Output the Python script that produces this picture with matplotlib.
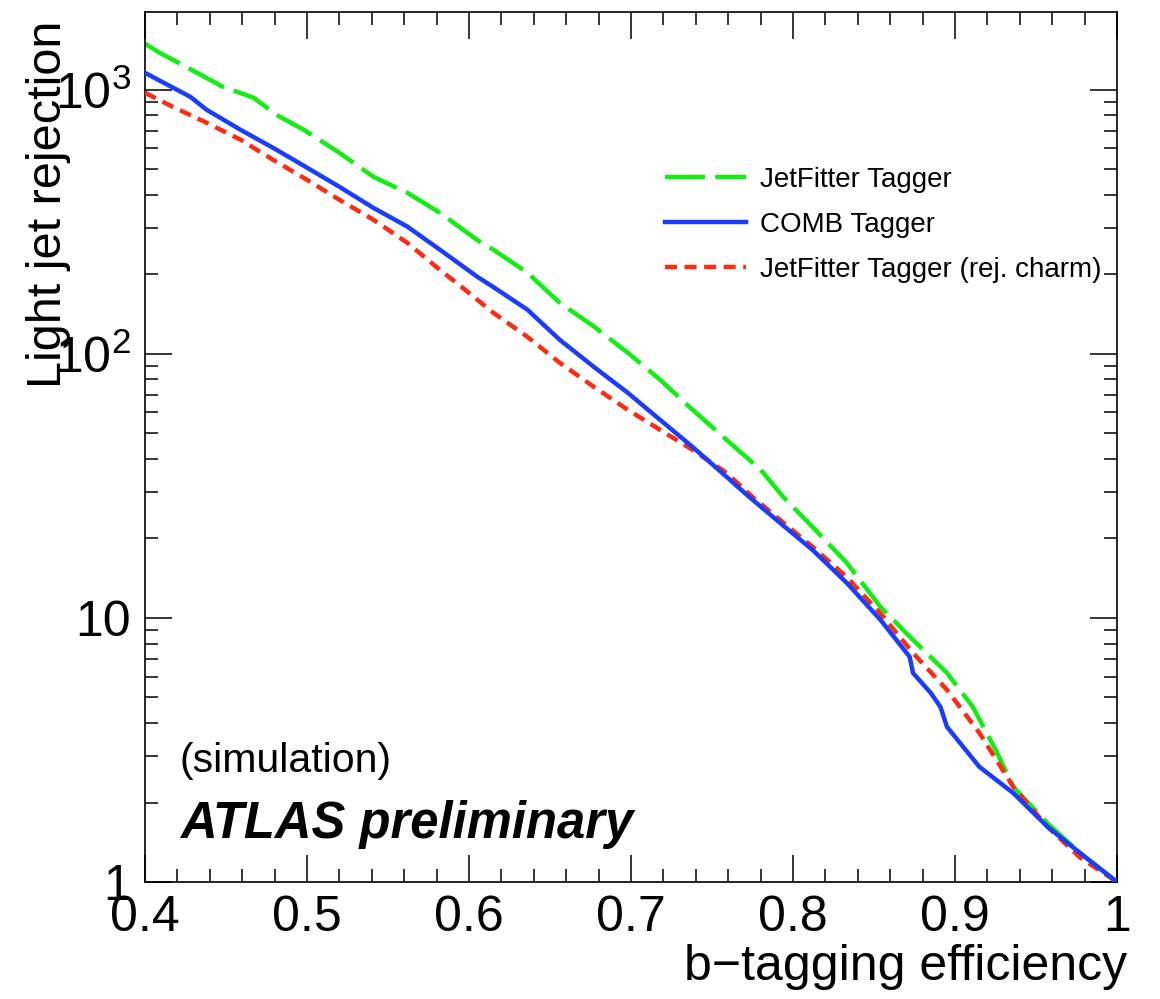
import matplotlib
matplotlib.use("Agg")
import matplotlib.pyplot as plt
from matplotlib.ticker import FixedLocator, FixedFormatter, MultipleLocator, LogLocator, NullFormatter

# b-tagging efficiency vs light jet rejection
jf_eff = [0.400, 0.409, 0.423, 0.448, 0.467, 0.481, 0.498, 0.520, 0.541, 0.562, 0.582,
          0.605, 0.615, 0.636, 0.656, 0.677, 0.698, 0.718, 0.738, 0.759, 0.780, 0.794,
          0.812, 0.833, 0.854, 0.874, 0.895, 0.911, 0.926, 0.936, 0.957, 0.977, 1.000]
jf_rej = [1494, 1380, 1244, 1026, 933, 804, 705, 577, 468, 407, 342,
          270, 248, 203, 156, 127, 101, 79.7, 61.4, 47.2, 36.4, 28.7,
          22.1, 16.2, 11.0, 8.26, 6.19, 4.60, 3.08, 2.29, 1.67, 1.29, 1.0]

comb_eff = [0.400, 0.428, 0.438, 0.459, 0.479, 0.500, 0.520, 0.541, 0.562, 0.582, 0.605,
            0.615, 0.636, 0.656, 0.677, 0.698, 0.718, 0.738, 0.759, 0.773, 0.792, 0.812,
            0.833, 0.854, 0.872, 0.874, 0.885, 0.891, 0.895, 0.905, 0.915, 0.936, 0.957,
            0.977, 1.000]
comb_rej = [1159, 940, 840, 705, 603, 507, 429, 357, 303, 248, 196,
            179, 147, 113, 89.3, 71.2, 56.2, 44.4, 34.2, 28.7, 22.9, 18.1,
            13.6, 9.83, 7.12, 6.19, 5.20, 4.60, 3.87, 3.25, 2.73, 2.17, 1.62,
            1.29, 1.0]

jfc_eff = [0.400, 0.417, 0.438, 0.459, 0.479, 0.500, 0.520, 0.541, 0.562, 0.582, 0.596,
           0.615, 0.636, 0.656, 0.677, 0.698, 0.718, 0.738, 0.759, 0.775, 0.792, 0.812,
           0.833, 0.854, 0.874, 0.895, 0.915, 0.936, 0.957, 0.977, 1.000]
jfc_rej = [974, 862, 750, 647, 543, 456, 383, 322, 263, 208, 178,
           143, 116, 92.5, 75.0, 61.4, 51.5, 43.3, 35.4, 28.7, 23.5, 18.6,
           14.3, 10.4, 7.37, 5.34, 3.67, 2.29, 1.62, 1.24, 1.0]

labels = ["JetFitter Tagger", "COMB Tagger", "JetFitter Tagger (rej. charm)"]
x_ticks = [0.4, 0.5, 0.6, 0.7, 0.8, 0.9, 1.0]
x_ticklabels = ["0.4", "0.5", "0.6", "0.7", "0.8", "0.9", "1"]
y_ticks = [1, 10, 100, 1000]
y_ticklabels = ["1", "10", "$10^{2}$", "$10^{3}$"]

plt.rcParams["font.family"] = ["Liberation Sans", "DejaVu Sans"]
plt.rcParams["mathtext.fontset"] = "custom"
plt.rcParams["mathtext.rm"] = "Liberation Sans"
plt.rcParams["mathtext.it"] = "Liberation Sans:italic"
plt.rcParams["mathtext.bf"] = "Liberation Sans:bold"

fig = plt.figure(figsize=(11.6, 9.99), dpi=100)
ax = fig.add_axes([0.125, 0.1171, 0.838, 0.8709])

l1, = ax.plot(jf_eff, jf_rej, color="#11ee11", lw=3.2, dashes=(9, 2.3), zorder=2)
l3, = ax.plot(jfc_eff, jfc_rej, color="#ff2a10", lw=3.2, dashes=(2.7, 1.7), zorder=3)
l2, = ax.plot(comb_eff, comb_rej, color="#1a3cff", lw=3.2, zorder=4)

ax.set_yscale("log")
ax.set_xlim(0.4, 1.0)
ax.set_ylim(1, 1970)

ax.xaxis.set_major_locator(FixedLocator(x_ticks))
ax.xaxis.set_major_formatter(FixedFormatter(x_ticklabels))
ax.xaxis.set_minor_locator(MultipleLocator(0.02))
ax.yaxis.set_major_locator(FixedLocator(y_ticks))
ax.yaxis.set_major_formatter(FixedFormatter(y_ticklabels))
ax.yaxis.set_minor_locator(LogLocator(base=10, subs=range(2, 10), numticks=20))
ax.yaxis.set_minor_formatter(NullFormatter())

ax.tick_params(which="both", direction="in", top=True, right=True, width=1.1, colors="black")
ax.tick_params(which="major", length=19.5, labelsize=36)
ax.tick_params(which="minor", length=9.5)
ax.tick_params(axis="x", which="major", pad=9)
ax.tick_params(axis="y", which="major", pad=10)
for s in ax.spines.values():
    s.set_linewidth(1.2)

ax.text(-0.0988, 0.99, "Light jet rejection", rotation=90, ha="center", va="top",
        fontsize=35, transform=ax.transAxes)
ax.text(1.0103, -0.1126, "b\u2212tagging efficiency", ha="right", va="baseline",
        fontsize=36, transform=ax.transAxes)

ax.text(0.036, 0.1264, "(simulation)", fontsize=29.5, ha="left", va="baseline",
        transform=ax.transAxes)
ax.text(0.036, 0.0506, "ATLAS preliminary", fontsize=36.5, fontweight="bold",
        fontstyle="italic", ha="left", va="baseline", transform=ax.transAxes)

ax.legend([l1, l2, l3], labels, loc="upper left", bbox_to_anchor=(0.535, 0.822),
          frameon=False, fontsize=20, handlelength=2.9, handletextpad=0.5,
          labelspacing=0.68, borderpad=0, borderaxespad=0)

fig.savefig("out.png", dpi=100)
